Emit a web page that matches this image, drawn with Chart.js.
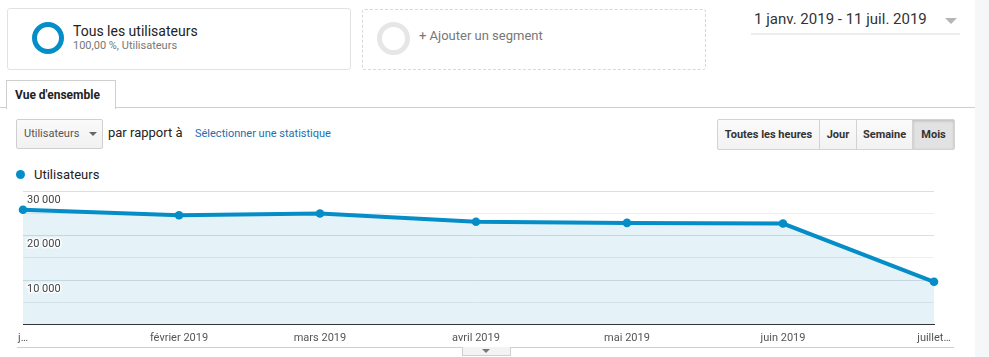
<!DOCTYPE html>
<html lang="fr">
<head>
<meta charset="utf-8">
<script src="https://cdn.jsdelivr.net/npm/chart.js@4.4.1/dist/chart.umd.min.js"></script>
<style>
  html, body { margin:0; padding:0; }
  body { width:989px; height:357px; position:relative; overflow:hidden; background:#fff; font-family: Roboto, "Liberation Sans", Arial, sans-serif; color:#222; }
  .abs { position:absolute; }
  .strip { left:975px; top:0; width:14px; height:357px; background:#f6f7f9; }
  .seg1 { left:7px; top:8px; width:342px; height:60px; border:1px solid #e2e2e2; border-radius:3px; }
  .seg2 { left:362px; top:9px; width:342px; height:59px; border:1px dashed #d8d8d8; border-radius:3px; }
  .ring { box-sizing:border-box; border-radius:50%; }
  .t { white-space:nowrap; line-height:1; }
  .hline { left:0; top:107px; width:975px; height:1px; background:#cfcfcf; }
  .tab { left:6px; top:80px; width:108px; height:28px; border:1px solid #cfcfcf; border-bottom:none; background:#fff; }
  .dd { left:16px; top:119px; width:85px; height:28px; border:1px solid #cfcfcf; border-radius:2px; background:linear-gradient(#fafafa,#f1f1f1); }
  .btns { left:717px; top:119px; width:236px; height:29px; border:1px solid #d3d3d3; border-radius:2px; background:linear-gradient(#fbfbfb,#f2f2f2); overflow:hidden; }
  .btn { top:0; height:29px; border-right:1px solid #d3d3d3; font-weight:bold; font-size:11px; color:#333; display:flex; align-items:center; justify-content:center; box-sizing:border-box; }
  #wrap { left:0; top:185px; width:975px; height:172px; }
</style>
</head>
<body>
<div class="abs strip"></div>

<div class="abs seg1"></div>
<div class="abs ring" style="left:32px;top:22px;width:32px;height:32px;border:5px solid #058dc7;"></div>
<div class="abs t" style="left:73px;top:24px;font-size:14px;color:#222;">Tous les utilisateurs</div>
<div class="abs t" style="left:73px;top:40px;font-size:11px;color:#777;">100,00 %, Utilisateurs</div>

<div class="abs seg2"></div>
<div class="abs ring" style="left:377px;top:22px;width:33px;height:33px;border:5px solid #e6e6e6;"></div>
<div class="abs t" style="left:419px;top:29px;font-size:13px;color:#777;">+ Ajouter un segment</div>

<div class="abs t" style="left:754px;top:12px;font-size:15px;color:#333;">1 janv. 2019 - 11 juil. 2019</div>
<div class="abs" style="left:945px;top:18px;width:0;height:0;border-left:6px solid transparent;border-right:6px solid transparent;border-top:6px solid #b5b5b5;"></div>
<div class="abs" style="left:751px;top:33px;width:209px;height:2px;background:#ececec;"></div>

<div class="abs hline"></div>
<div class="abs tab"></div>
<div class="abs t" style="left:15px;top:89px;font-size:12px;font-weight:bold;color:#222;">Vue d'ensemble</div>

<div class="abs dd"></div>
<div class="abs t" style="left:24px;top:128px;font-size:11px;color:#555;">Utilisateurs</div>
<div class="abs" style="left:89px;top:132px;width:0;height:0;border-left:4px solid transparent;border-right:4px solid transparent;border-top:4px solid #666;"></div>
<div class="abs t" style="left:108px;top:126px;font-size:13px;color:#222;">par rapport à</div>
<div class="abs t" style="left:195px;top:128px;font-size:11px;color:#1a6fae;">Sélectionner une statistique</div>

<div class="abs btns">
  <div class="abs btn" style="left:0;width:102px;">Toutes les heures</div>
  <div class="abs btn" style="left:102px;width:37px;">Jour</div>
  <div class="abs btn" style="left:139px;width:56px;">Semaine</div>
  <div class="abs btn" style="left:195px;width:41px;border-right:none;background:#e2e2e2;box-shadow:inset 0 1px 3px rgba(0,0,0,0.18);">Mois</div>
</div>

<div class="abs" style="left:16px;top:170px;width:9px;height:9px;border-radius:50%;background:#058dc7;"></div>
<div class="abs t" style="left:34px;top:168px;font-size:13px;color:#222;">Utilisateurs</div>

<div class="abs" id="wrap"><canvas id="c"></canvas></div>

<div class="abs" style="left:17px;top:347px;width:937px;height:1px;background:#cfcfcf;"></div>
<div class="abs" style="left:462px;top:347px;width:47px;height:8px;border:1px solid #cfcfcf;border-top:none;background:#f3f3f3;"></div>
<div class="abs" style="left:482px;top:349px;width:0;height:0;border-left:4px solid transparent;border-right:4px solid transparent;border-top:4px solid #777;"></div>

<script>
// ---- data ----
const monthDays = [0, 31, 59, 90, 120, 151, 181];            // day offset from 1 janv. 2019
const xTickLabels = ['j…', 'février 2019', 'mars 2019', 'avril 2019', 'mai 2019', 'juin 2019', 'juillet…'];
const utilisateurs = [25800, 24550, 24950, 23100, 22850, 22700, 9650];
const yTickValues = [10000, 20000, 30000];
const yTickLabels = ['10 000', '20 000', '30 000'];

const blue = '#058dc7';

const yLabelPlugin = {
  id: 'yLabels',
  afterDatasetsDraw(chart) {
    const {ctx, chartArea} = chart;
    const y = chart.scales.y;
    ctx.save();
    ctx.font = '11px Roboto, "Liberation Sans", Arial, sans-serif';
    ctx.textBaseline = 'middle';
    ctx.textAlign = 'left';
    yTickValues.forEach((v, i) => {
      const py = y.getPixelForValue(v) + 9;
      ctx.lineWidth = 3;
      ctx.strokeStyle = 'rgba(255,255,255,0.85)';
      ctx.strokeText(yTickLabels[i], chartArea.left + 4, py);
      ctx.fillStyle = '#444';
      ctx.fillText(yTickLabels[i], chartArea.left + 4, py);
    });
    ctx.restore();
  }
};

new Chart(document.getElementById('c'), {
  type: 'line',
  data: {
    datasets: [{
      label: 'Utilisateurs',
      data: monthDays.map((d, i) => ({x: d, y: utilisateurs[i]})),
      borderColor: blue,
      backgroundColor: 'rgba(5,141,199,0.105)',
      fill: 'origin',
      borderWidth: 4,
      tension: 0,
      pointRadius: 4.3,
      pointBackgroundColor: blue,
      pointBorderColor: blue,
      pointBorderWidth: 0,
      clip: false
    }]
  },
  options: {
    responsive: true,
    maintainAspectRatio: false,
    animation: false,
    events: [],
    layout: { padding: { left: 23, right: 41, top: 6, bottom: 5 } },
    plugins: { legend: { display: false }, tooltip: { enabled: false } },
    scales: {
      x: {
        type: 'linear',
        min: 0, max: 181,
        afterBuildTicks: (scale) => { scale.ticks = monthDays.map(v => ({value: v})); },
        ticks: {
          autoSkip: false, maxRotation: 0, minRotation: 0, padding: 7,
          color: '#555',
          font: { family: 'Roboto, "Liberation Sans", Arial, sans-serif', size: 11 },
          callback: (value, index) => xTickLabels[index]
        },
        grid: { display: false, drawTicks: false },
        border: { display: true, color: '#333', width: 1 }
      },
      y: {
        min: 0, max: 30000,
        ticks: { display: false, stepSize: 5000 },
        grid: {
          drawTicks: false,
          color: (ctx) => (ctx.tick && ctx.tick.value % 10000 === 0) ? '#dcdfe1' : '#eeeeee',
          lineWidth: 1
        },
        border: { display: false }
      }
    }
  },
  plugins: [yLabelPlugin]
});
</script>
</body>
</html>
